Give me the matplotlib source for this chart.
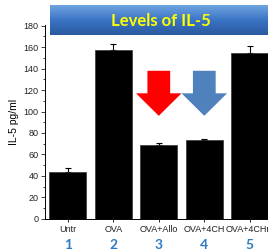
import numpy as np
import matplotlib
matplotlib.use("Agg")
import matplotlib.pyplot as plt
from matplotlib.patches import FancyArrow

plt.rcParams['font.family'] = ['Liberation Sans', 'DejaVu Sans']

groups = ["Untr", "OVA", "OVA+Allo", "OVA+4CH", "OVA+4CHm"]
numbers = ["1", "2", "3", "4", "5"]
il5 = [44, 157, 69, 73, 155]
il5_err = [3.5, 6, 2, 1.5, 6]

fig = plt.figure(figsize=(2.68, 2.52), dpi=100)
ax = fig.add_axes([0.168, 0.132, 0.849, 0.770])

x = np.arange(len(groups))
ax.bar(x, il5, width=0.82, color="black", edgecolor="#333333", linewidth=0.5, zorder=2)
ax.errorbar(x, il5, yerr=[np.zeros(len(il5)), il5_err], fmt="none",
            ecolor="black", elinewidth=0.8, capsize=2.5, capthick=0.8, zorder=1)

ax.set_xlim(-0.5, 4.5)
ax.set_ylim(0, 181)
ax.set_yticks(np.arange(0, 181, 20))
ax.set_yticks(np.arange(0, 181, 10), minor=True)
ax.set_xticks(x)
ax.set_xticklabels(groups, fontsize=6.5, color="#222222")
ax.tick_params(axis="y", labelsize=6.5, length=3, width=0.6, direction="out", colors="#222222", pad=1.5)
ax.tick_params(axis="y", which="minor", length=1.8, width=0.5)
ax.tick_params(axis="x", length=2, width=0.6, pad=2.5)
ax.set_ylabel("IL-5 pg/ml", fontsize=7.5, labelpad=3)
for s in ["top", "right"]:
    ax.spines[s].set_visible(False)
for s in ["left", "bottom"]:
    ax.spines[s].set_linewidth(0.7)

# down arrows over bars 3 and 4
for xi, col in [(2, "#FF0000"), (3, "#4F81BD")]:
    ax.add_patch(FancyArrow(xi, 138, 0, -42, width=0.5, head_width=1.0,
                            head_length=21, length_includes_head=True,
                            color=col, linewidth=0, zorder=3))

# group numbers
for xi, n in zip(x, numbers):
    ax.text(xi, -0.135, n, transform=ax.get_xaxis_transform(), ha="center", va="center",
            fontsize=10, fontweight="bold", color="#2E7BC4", family=["Lato", "DejaVu Sans"])

# title banner
bax = fig.add_axes([0.187, 0.861, 0.85, 0.119])
grad = np.linspace(0, 1, 50).reshape(-1, 1)
cmap = matplotlib.colors.LinearSegmentedColormap.from_list("b", ["#6FA3E0", "#3B74C4", "#2A5AA0"])
bax.imshow(grad, aspect="auto", cmap=cmap, extent=[0, 1, 0, 1])
bax.set_xlim(0, 1)
bax.set_ylim(0, 1)
bax.axis("off")
fig.text(0.6, 0.915, "Levels of IL-5", ha="center", va="center", fontsize=12,
         fontweight="bold", color="#FFFF00", family=["Lato", "DejaVu Sans"])

fig.savefig("out.png", dpi=100)
